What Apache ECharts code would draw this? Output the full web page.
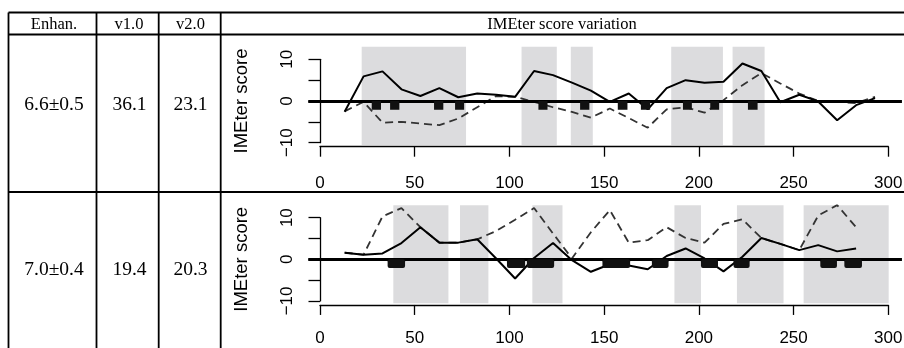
<!DOCTYPE html>
<html><head><meta charset="utf-8">
<script src="https://cdn.jsdelivr.net/npm/echarts@6/dist/echarts.min.js"></script>
<style>html,body{margin:0;padding:0;background:#fff}#c{width:904px;height:348px}</style>
</head><body><div id="c"></div>
<script>
// ---------------- data ----------------
const headers = ['Enhan.', 'v1.0', 'v2.0', 'IMEter score variation'];
const rowEnhan = ['6.6±0.5', '7.0±0.4'];
const rowV1 = ['36.1', '19.4'];
const rowV2 = ['23.1', '20.3'];
const yAxisTitle = 'IMEter score';
const xTickValues = [0, 50, 100, 150, 200, 250, 300];
const yLabelValues = [-10, 0, 10];

const topX = [13, 23, 33, 43, 53, 63, 73, 83, 93, 103, 113, 123, 133, 143, 153, 163, 173, 183, 193, 203, 213, 223, 233, 243, 253, 263, 273, 283, 293];
const topSolid = [-2.6, 5.9, 7.1, 2.8, 1.2, 3.1, 0.9, 1.8, 1.5, 1.0, 7.2, 6.2, 4.4, 2.5, -0.2, 1.8, -2.0, 3.1, 5.0, 4.4, 4.6, 9.0, 7.2, -0.3, 1.5, -0.1, -4.6, -1.0, 0.7];
const topDashed = [-2.5, -0.2, -5.2, -5.0, -5.4, -5.8, -4.2, -1.5, 1.2, 1.0, -0.2, -1.5, -2.6, -4.0, -1.8, -4.1, -6.4, -2.0, -1.5, -2.8, 0.2, 3.8, 6.7, 4.2, 1.8, 0.0, -0.2, -0.5, 1.0];
const topBands = [[22, 77.1], [106.4, 125], [132.4, 144], [185.4, 212.7], [217.8, 234.7]];
const topMarks = [[27.3, 32.2], [37, 41.9], [60.2, 65.1], [71.3, 76.1], [115.3, 120.1], [137.3, 142.2], [157.2, 162.3], [169.4, 174.3], [191.6, 196.3], [206, 210.7], [225.9, 231]];

const botX = [13, 23, 33, 43, 53, 63, 73, 83, 93, 103, 113, 123, 133, 143, 153, 163, 173, 183, 193, 203, 213, 223, 233, 243, 253, 263, 273, 283];
const botSolid = [1.6, 1.1, 1.4, 3.9, 7.7, 4.0, 4.0, 4.8, 0.2, -4.6, 0.3, 3.9, -0.2, -3.0, -1.2, -1.5, -2.4, 0.8, 2.6, 0.2, -2.9, 0.6, 5.1, 3.7, 2.2, 3.4, 1.9, 2.6];
const botDashed = [1.6, 1.1, 10.3, 12.3, 7.7, 4.0, 4.0, 4.8, 6.8, 9.5, 12.3, 6.2, 0.2, 6.5, 11.8, 4.0, 4.6, 7.7, 5.1, 4.0, 8.5, 9.6, 5.1, 3.7, 2.2, 10.5, 13.0, 7.7];
const botBands = [[38.7, 67.8], [73.9, 88.9], [112.1, 128], [187.1, 201.1], [220.1, 244.7], [255.3, 300.2]];
const botMarks = [[35.7, 44.9], [98.7, 108.3], [109.2, 123.6], [149.1, 163.7], [175.2, 184], [201.1, 210.1], [218.3, 226.8], [264.1, 272.9], [276.8, 286.1]];
const markDepth = -2.1;

// ---------------- layout ----------------
const SANS = 'Liberation Sans, Arial, sans-serif';
const SERIF = 'Liberation Serif, Times New Roman, serif';
const X0 = 320, XU = 568.3 / 300;
const XMIN = -6.2, XMAX = 307.2;
const YMIN = -10.55, YMAX = 13;
const panels = [
  { y0: 101, yu: 4.17, axisOff: 4, labelMargin: 28, x: topX, solid: topSolid, dashed: topDashed, bands: topBands, marks: topMarks, rounded: 0 },
  { y0: 259.3, yu: 4.165, axisOff: 4, labelMargin: 25, x: botX, solid: botSolid, dashed: botDashed, bands: botBands, marks: botMarks, rounded: 2 }
];

const grid = [], xAxis = [], yAxis = [], series = [];
panels.forEach((p, i) => {
  const gp = grid.length;
  grid.push({ left: X0 + XMIN * XU, top: p.y0 - YMAX * p.yu, width: (XMAX - XMIN) * XU, height: (YMAX - YMIN) * p.yu, containLabel: false, outerBoundsMode: 'none' });
  xAxis.push({ gridIndex: gp, type: 'value', min: XMIN, max: XMAX, show: false });
  yAxis.push({ gridIndex: gp, type: 'value', min: YMIN, max: YMAX, show: false });
  const ga = grid.length;
  grid.push({ left: X0, top: p.y0 - 10 * p.yu, width: 300 * XU, height: 20 * p.yu, containLabel: false, outerBoundsMode: 'none' });
  xAxis.push({
    gridIndex: ga, type: 'value', min: 0, max: 300, interval: 50, position: 'bottom', offset: p.axisOff,
    axisLine: { show: true, onZero: false, lineStyle: { color: '#000', width: 1.3 } },
    axisTick: { show: true, length: 10, lineStyle: { color: '#000', width: 1.3 } },
    axisLabel: { show: true, margin: p.labelMargin, color: '#000', fontFamily: SANS, fontSize: 17, showMinLabel: true, showMaxLabel: true },
    splitLine: { show: false }
  });
  yAxis.push({
    gridIndex: ga, type: 'value', min: -10, max: 10, interval: 5, position: 'left',
    name: yAxisTitle, nameLocation: 'middle', nameRotate: 90, nameGap: 69,
    nameTextStyle: { color: '#000', fontFamily: SANS, fontSize: 18.5 },
    axisLine: { show: true, onZero: false, lineStyle: { color: '#000', width: 1.3 } },
    axisTick: { show: true, length: 11.5, lineStyle: { color: '#000', width: 1.3 } },
    axisLabel: {
      show: true, rotate: 90, margin: 24, color: '#000', fontFamily: SANS, fontSize: 17,
      formatter: v => yLabelValues.includes(v) ? (v < 0 ? '\u2212' + Math.abs(v) : String(v)) : ''
    },
    splitLine: { show: false }
  });

  series.push({
    type: 'custom', xAxisIndex: gp, yAxisIndex: gp, silent: true, z: 1,
    data: p.bands,
    renderItem: (params, api) => {
      const a = api.coord([api.value(0), 0]);
      const b = api.coord([api.value(1), 0]);
      const cs = params.coordSys;
      return { type: 'rect', shape: { x: a[0], y: cs.y, width: b[0] - a[0], height: cs.height }, style: { fill: '#dcdcde' } };
    }
  });
  series.push({
    type: 'line', xAxisIndex: gp, yAxisIndex: gp, silent: true, z: 3,
    data: p.x.map((x, k) => [x, p.dashed[k]]),
    symbol: 'none', showSymbol: false,
    lineStyle: { color: '#333', width: 1.8, type: [8, 5] },
    markLine: {
      silent: true, symbol: 'none', label: { show: false }, animation: false,
      lineStyle: { color: '#000', width: 3, type: 'solid' },
      data: [{ yAxis: 0 }]
    }
  });
  series.push({
    type: 'line', xAxisIndex: gp, yAxisIndex: gp, silent: true, z: 4,
    data: p.x.map((x, k) => [x, p.solid[k]]),
    symbol: 'none', showSymbol: false,
    lineStyle: { color: '#000', width: 2 }
  });
  series.push({
    type: 'custom', xAxisIndex: gp, yAxisIndex: gp, silent: true, z: 6,
    data: p.marks,
    renderItem: (params, api) => {
      const a = api.coord([api.value(0), 0]);
      const b = api.coord([api.value(1), markDepth]);
      return { type: 'rect', shape: { x: a[0], y: a[1], width: b[0] - a[0], height: b[1] - a[1], r: p.rounded }, style: { fill: '#111' } };
    }
  });
});

// table frame and cells
const L = 8.5, C1 = 96.5, C2 = 158.7, C3 = 220.7, R = 904;
const yTop = 12.5, yHead = 34.5, ySep = 192, yBot = 348;
const lineEl = (x1, y1, x2, y2, w) => ({ type: 'line', silent: true, z: 10, shape: { x1, y1, x2, y2 }, style: { stroke: '#000', lineWidth: w } });
const textEl = (t, x, y, size) => ({ type: 'text', silent: true, z: 10, x, y, style: { text: t, fill: '#000', font: size + 'px ' + SERIF, align: 'center', verticalAlign: 'middle' } });
const graphic = [
  lineEl(L, yTop, R, yTop, 2.2), lineEl(L, yHead, R, yHead, 1.8), lineEl(L, ySep, R, ySep, 1.8),
  lineEl(L, yTop, L, yBot, 1.8), lineEl(C1, yTop, C1, yBot, 1.8), lineEl(C2, yTop, C2, yBot, 1.8), lineEl(C3, yTop, C3, yBot, 1.8),
  textEl(headers[0], 54, 24.8, 16.5), textEl(headers[1], 129, 24.8, 16.5), textEl(headers[2], 190.5, 24.8, 16.5), textEl(headers[3], 562, 24.8, 16.5)
];
const rowY = [105, 270];
rowY.forEach((y, i) => {
  graphic.push(textEl(rowEnhan[i], 54, y, 19.5), textEl(rowV1[i], 129.5, y, 19.5), textEl(rowV2[i], 190.5, y, 19.5));
});

const chart = echarts.init(document.getElementById('c'), null, { renderer: 'canvas' });
chart.setOption({ animation: false, backgroundColor: '#fff', grid, xAxis, yAxis, series, graphic });
</script>
</body></html>
